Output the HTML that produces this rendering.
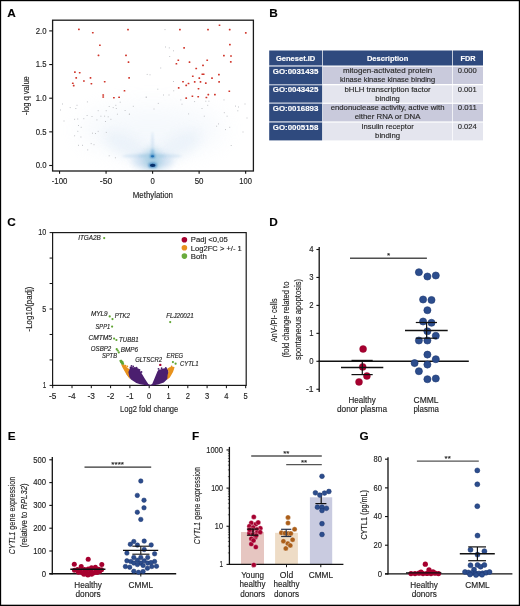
<!DOCTYPE html>
<html><head><meta charset="utf-8"><style>
html,body{margin:0;padding:0;background:#fff;}
svg{display:block;filter:blur(0.35px);}
text{font-family:"Liberation Sans", sans-serif;stroke:#222;stroke-width:0.14px;}
text.w{stroke:#fff;}
</style></head><body>
<svg width="520" height="606" viewBox="0 0 520 606">
<rect width="520" height="606" fill="#fff"/>
<g fill="#222">
<text x="7.20" y="16.90" font-size="11.8" font-weight="bold" fill="#000" >A</text>
<defs><filter id="b6" x="-50%" y="-50%" width="200%" height="200%"><feGaussianBlur stdDeviation="6"/></filter><filter id="b3" x="-50%" y="-50%" width="200%" height="200%"><feGaussianBlur stdDeviation="3"/></filter><filter id="b1" x="-50%" y="-50%" width="200%" height="200%"><feGaussianBlur stdDeviation="1"/></filter><filter id="b12" x="-80%" y="-80%" width="260%" height="260%"><feGaussianBlur stdDeviation="12"/></filter><clipPath id="clipA"><rect x="53" y="20.5" width="200" height="150"/></clipPath></defs>
<g clip-path="url(#clipA)">
<ellipse cx="152" cy="130" rx="72" ry="24" fill="#e3edf8" opacity="0.35" filter="url(#b12)"/>
<ellipse cx="130" cy="148" rx="28" ry="10" transform="rotate(28 130 148)" fill="#dbe8f5" opacity="0.45" filter="url(#b6)"/>
<ellipse cx="175" cy="148" rx="28" ry="10" transform="rotate(-28 175 148)" fill="#dbe8f5" opacity="0.45" filter="url(#b6)"/>
<ellipse cx="152.5" cy="161" rx="20" ry="9" fill="#c6dbef" opacity="0.75" filter="url(#b3)"/>
<ellipse cx="152.5" cy="162" rx="9" ry="6" fill="#9ecae1" opacity="0.7" filter="url(#b3)"/>
<ellipse cx="152" cy="156" rx="30" ry="2.2" fill="#b3d1ea" opacity="0.4" filter="url(#b1)"/>
<ellipse cx="152" cy="156" rx="14" ry="1.4" fill="#9ecae1" opacity="0.45" filter="url(#b1)"/>
<ellipse cx="152.5" cy="157" rx="7" ry="10" fill="#9ecae1" opacity="0.45" filter="url(#b3)"/>
<ellipse cx="152.5" cy="145" rx="1.4" ry="13" fill="#c6dbef" opacity="0.6" filter="url(#b1)"/>
<ellipse cx="152.5" cy="153" rx="1.6" ry="4" fill="#6baed6" opacity="0.6" filter="url(#b1)"/>
<ellipse cx="152.5" cy="156.2" rx="2.6" ry="1.8" fill="#2171b5" opacity="0.8" filter="url(#b1)"/>
<ellipse cx="152.5" cy="156.2" rx="1.5" ry="1.0" fill="#2171b5"/>
<ellipse cx="152.7" cy="165.2" rx="4.2" ry="2.6" fill="#2171b5" opacity="0.7" filter="url(#b1)"/>
<ellipse cx="152.7" cy="165.3" rx="2.8" ry="1.6" fill="#08306b"/>
</g>
<rect x="86.9" y="101.4" width="1" height="1" fill="#c2c4c8"/>
<rect x="76.5" y="104.8" width="1" height="1" fill="#c2c4c8"/>
<rect x="69.7" y="107.1" width="1" height="1" fill="#c2c4c8"/>
<rect x="75.3" y="108.0" width="1" height="1" fill="#c2c4c8"/>
<rect x="97.7" y="110.2" width="1" height="1" fill="#c2c4c8"/>
<rect x="105.7" y="110.2" width="1" height="1" fill="#c2c4c8"/>
<rect x="108.7" y="106.0" width="1" height="1" fill="#c2c4c8"/>
<rect x="112.7" y="107.1" width="1" height="1" fill="#c2c4c8"/>
<rect x="115.3" y="104.8" width="1" height="1" fill="#c2c4c8"/>
<rect x="115.8" y="108.0" width="1" height="1" fill="#c2c4c8"/>
<rect x="119.7" y="101.7" width="1" height="1" fill="#c2c4c8"/>
<rect x="124.6" y="110.0" width="1" height="1" fill="#c2c4c8"/>
<rect x="128.9" y="113.7" width="1" height="1" fill="#c2c4c8"/>
<rect x="116.9" y="113.7" width="1" height="1" fill="#c2c4c8"/>
<rect x="86.6" y="115.0" width="1" height="1" fill="#c2c4c8"/>
<rect x="91.5" y="116.0" width="1" height="1" fill="#c2c4c8"/>
<rect x="100.4" y="115.7" width="1" height="1" fill="#c2c4c8"/>
<rect x="104.1" y="115.7" width="1" height="1" fill="#c2c4c8"/>
<rect x="107.7" y="116.3" width="1" height="1" fill="#c2c4c8"/>
<rect x="110.4" y="118.8" width="1" height="1" fill="#c2c4c8"/>
<rect x="74.1" y="118.8" width="1" height="1" fill="#c2c4c8"/>
<rect x="77.2" y="118.5" width="1" height="1" fill="#c2c4c8"/>
<rect x="83.3" y="118.2" width="1" height="1" fill="#c2c4c8"/>
<rect x="96.4" y="119.4" width="1" height="1" fill="#c2c4c8"/>
<rect x="105.0" y="121.0" width="1" height="1" fill="#c2c4c8"/>
<rect x="78.0" y="125.0" width="1" height="1" fill="#c2c4c8"/>
<rect x="80.7" y="126.8" width="1" height="1" fill="#c2c4c8"/>
<rect x="77.3" y="130.8" width="1" height="1" fill="#c2c4c8"/>
<rect x="92.0" y="132.7" width="1" height="1" fill="#c2c4c8"/>
<rect x="95.0" y="133.0" width="1" height="1" fill="#c2c4c8"/>
<rect x="97.7" y="130.8" width="1" height="1" fill="#c2c4c8"/>
<rect x="105.8" y="131.9" width="1" height="1" fill="#c2c4c8"/>
<rect x="74.1" y="135.3" width="1" height="1" fill="#c2c4c8"/>
<rect x="80.4" y="136.5" width="1" height="1" fill="#c2c4c8"/>
<rect x="78.0" y="144.8" width="1" height="1" fill="#c2c4c8"/>
<rect x="82.0" y="144.8" width="1" height="1" fill="#c2c4c8"/>
<rect x="90.7" y="143.1" width="1" height="1" fill="#c2c4c8"/>
<rect x="93.5" y="144.2" width="1" height="1" fill="#c2c4c8"/>
<rect x="87.2" y="149.4" width="1" height="1" fill="#c2c4c8"/>
<rect x="108.7" y="155.3" width="1" height="1" fill="#c2c4c8"/>
<rect x="114.9" y="157.3" width="1" height="1" fill="#c2c4c8"/>
<rect x="180.3" y="99.4" width="1" height="1" fill="#c2c4c8"/>
<rect x="181.5" y="103.7" width="1" height="1" fill="#c2c4c8"/>
<rect x="194.1" y="101.1" width="1" height="1" fill="#c2c4c8"/>
<rect x="205.3" y="100.7" width="1" height="1" fill="#c2c4c8"/>
<rect x="208.4" y="100.7" width="1" height="1" fill="#c2c4c8"/>
<rect x="207.2" y="104.8" width="1" height="1" fill="#c2c4c8"/>
<rect x="223.5" y="99.4" width="1" height="1" fill="#c2c4c8"/>
<rect x="201.5" y="108.0" width="1" height="1" fill="#c2c4c8"/>
<rect x="188.1" y="113.4" width="1" height="1" fill="#c2c4c8"/>
<rect x="203.8" y="115.7" width="1" height="1" fill="#c2c4c8"/>
<rect x="223.8" y="112.2" width="1" height="1" fill="#c2c4c8"/>
<rect x="226.6" y="115.7" width="1" height="1" fill="#c2c4c8"/>
<rect x="235.0" y="105.6" width="1" height="1" fill="#c2c4c8"/>
<rect x="238.0" y="106.5" width="1" height="1" fill="#c2c4c8"/>
<rect x="237.3" y="110.3" width="1" height="1" fill="#c2c4c8"/>
<rect x="218.0" y="123.4" width="1" height="1" fill="#c2c4c8"/>
<rect x="216.1" y="125.7" width="1" height="1" fill="#c2c4c8"/>
<rect x="229.2" y="126.8" width="1" height="1" fill="#c2c4c8"/>
<rect x="225.0" y="129.1" width="1" height="1" fill="#c2c4c8"/>
<rect x="230.7" y="145.0" width="1" height="1" fill="#c2c4c8"/>
<rect x="145.8" y="96.9" width="1" height="1" fill="#c2c4c8"/>
<rect x="157.8" y="102.9" width="1" height="1" fill="#c2c4c8"/>
<rect x="132.8" y="105.8" width="1" height="1" fill="#c2c4c8"/>
<rect x="153.5" y="108.5" width="1" height="1" fill="#c2c4c8"/>
<rect x="128.9" y="113.7" width="1" height="1" fill="#c2c4c8"/>
<rect x="62.0" y="103.5" width="1" height="1" fill="#c2c4c8"/>
<rect x="63.5" y="120.5" width="1" height="1" fill="#c2c4c8"/>
<rect x="244.5" y="103.5" width="1" height="1" fill="#c2c4c8"/>
<rect x="242.5" y="131.5" width="1" height="1" fill="#c2c4c8"/>
<rect x="60.0" y="109.5" width="1" height="1" fill="#c2c4c8"/>
<rect x="246.5" y="117.5" width="1" height="1" fill="#c2c4c8"/>
<rect x="164.5" y="29.1" width="1" height="1" fill="#c2c4c8"/>
<rect x="165.0" y="46.5" width="1" height="1" fill="#c2c4c8"/>
<rect x="168.8" y="47.4" width="1" height="1" fill="#c2c4c8"/>
<rect x="173.0" y="50.3" width="1" height="1" fill="#c2c4c8"/>
<rect x="169.2" y="56.0" width="1" height="1" fill="#c2c4c8"/>
<rect x="160.2" y="67.5" width="1" height="1" fill="#c2c4c8"/>
<rect x="173.0" y="81.0" width="1" height="1" fill="#c2c4c8"/>
<rect x="157.3" y="88.7" width="1" height="1" fill="#c2c4c8"/>
<rect x="163.0" y="94.5" width="1" height="1" fill="#c2c4c8"/>
<rect x="168.5" y="94.5" width="1" height="1" fill="#c2c4c8"/>
<rect x="173.2" y="90.3" width="1" height="1" fill="#c2c4c8"/>
<rect x="146.7" y="73.9" width="1" height="1" fill="#c2c4c8"/>
<rect x="149.5" y="74.3" width="1" height="1" fill="#c2c4c8"/>
<rect x="145.7" y="96.5" width="1" height="1" fill="#c2c4c8"/>
<rect x="78.0" y="28.6" width="1.8" height="1.6" rx="0.4" fill="#d0352a"/>
<rect x="91.9" y="31.9" width="1.8" height="1.6" rx="0.4" fill="#d0352a"/>
<rect x="127.1" y="28.8" width="1.8" height="1.6" rx="0.4" fill="#d0352a"/>
<rect x="99.0" y="44.4" width="1.8" height="1.6" rx="0.4" fill="#d0352a"/>
<rect x="97.6" y="54.6" width="1.8" height="1.6" rx="0.4" fill="#d0352a"/>
<rect x="125.1" y="54.6" width="1.8" height="1.6" rx="0.4" fill="#d0352a"/>
<rect x="127.6" y="61.3" width="1.8" height="1.6" rx="0.4" fill="#d0352a"/>
<rect x="74.0" y="71.3" width="1.8" height="1.6" rx="0.4" fill="#d0352a"/>
<rect x="78.8" y="71.9" width="1.8" height="1.6" rx="0.4" fill="#d0352a"/>
<rect x="75.3" y="77.1" width="1.8" height="1.6" rx="0.4" fill="#d0352a"/>
<rect x="89.6" y="77.1" width="1.8" height="1.6" rx="0.4" fill="#d0352a"/>
<rect x="128.2" y="77.1" width="1.8" height="1.6" rx="0.4" fill="#d0352a"/>
<rect x="83.0" y="80.2" width="1.8" height="1.6" rx="0.4" fill="#d0352a"/>
<rect x="71.9" y="82.5" width="1.8" height="1.6" rx="0.4" fill="#d0352a"/>
<rect x="72.8" y="84.8" width="1.8" height="1.6" rx="0.4" fill="#d0352a"/>
<rect x="90.5" y="82.9" width="1.8" height="1.6" rx="0.4" fill="#d0352a"/>
<rect x="103.8" y="80.9" width="1.8" height="1.6" rx="0.4" fill="#d0352a"/>
<rect x="123.6" y="90.0" width="1.8" height="1.6" rx="0.4" fill="#d0352a"/>
<rect x="102.3" y="94.2" width="1.8" height="1.6" rx="0.4" fill="#d0352a"/>
<rect x="102.3" y="96.2" width="1.8" height="1.6" rx="0.4" fill="#d0352a"/>
<rect x="113.0" y="96.9" width="1.8" height="1.6" rx="0.4" fill="#d0352a"/>
<rect x="118.2" y="96.5" width="1.8" height="1.6" rx="0.4" fill="#d0352a"/>
<rect x="179.0" y="28.8" width="1.8" height="1.6" rx="0.4" fill="#d0352a"/>
<rect x="207.1" y="28.8" width="1.8" height="1.6" rx="0.4" fill="#d0352a"/>
<rect x="218.6" y="24.4" width="1.8" height="1.6" rx="0.4" fill="#d0352a"/>
<rect x="228.8" y="28.8" width="1.8" height="1.6" rx="0.4" fill="#d0352a"/>
<rect x="244.9" y="32.1" width="1.8" height="1.6" rx="0.4" fill="#d0352a"/>
<rect x="229.0" y="43.8" width="1.8" height="1.6" rx="0.4" fill="#d0352a"/>
<rect x="183.2" y="47.1" width="1.8" height="1.6" rx="0.4" fill="#d0352a"/>
<rect x="223.0" y="54.8" width="1.8" height="1.6" rx="0.4" fill="#d0352a"/>
<rect x="230.1" y="55.2" width="1.8" height="1.6" rx="0.4" fill="#d0352a"/>
<rect x="177.4" y="59.4" width="1.8" height="1.6" rx="0.4" fill="#d0352a"/>
<rect x="188.6" y="61.3" width="1.8" height="1.6" rx="0.4" fill="#d0352a"/>
<rect x="206.3" y="59.4" width="1.8" height="1.6" rx="0.4" fill="#d0352a"/>
<rect x="229.9" y="61.1" width="1.8" height="1.6" rx="0.4" fill="#d0352a"/>
<rect x="175.5" y="63.0" width="1.8" height="1.6" rx="0.4" fill="#d0352a"/>
<rect x="202.1" y="64.6" width="1.8" height="1.6" rx="0.4" fill="#d0352a"/>
<rect x="195.3" y="67.7" width="1.8" height="1.6" rx="0.4" fill="#d0352a"/>
<rect x="201.4" y="73.4" width="1.8" height="1.6" rx="0.4" fill="#d0352a"/>
<rect x="202.8" y="73.4" width="1.8" height="1.6" rx="0.4" fill="#d0352a"/>
<rect x="218.0" y="73.8" width="1.8" height="1.6" rx="0.4" fill="#d0352a"/>
<rect x="191.9" y="75.4" width="1.8" height="1.6" rx="0.4" fill="#d0352a"/>
<rect x="198.4" y="77.3" width="1.8" height="1.6" rx="0.4" fill="#d0352a"/>
<rect x="211.1" y="77.3" width="1.8" height="1.6" rx="0.4" fill="#d0352a"/>
<rect x="182.1" y="80.9" width="1.8" height="1.6" rx="0.4" fill="#d0352a"/>
<rect x="193.8" y="81.1" width="1.8" height="1.6" rx="0.4" fill="#d0352a"/>
<rect x="199.6" y="81.1" width="1.8" height="1.6" rx="0.4" fill="#d0352a"/>
<rect x="204.9" y="82.3" width="1.8" height="1.6" rx="0.4" fill="#d0352a"/>
<rect x="218.2" y="81.1" width="1.8" height="1.6" rx="0.4" fill="#d0352a"/>
<rect x="187.6" y="82.7" width="1.8" height="1.6" rx="0.4" fill="#d0352a"/>
<rect x="185.3" y="84.6" width="1.8" height="1.6" rx="0.4" fill="#d0352a"/>
<rect x="177.8" y="87.1" width="1.8" height="1.6" rx="0.4" fill="#d0352a"/>
<rect x="197.6" y="87.9" width="1.8" height="1.6" rx="0.4" fill="#d0352a"/>
<rect x="228.4" y="90.4" width="1.8" height="1.6" rx="0.4" fill="#d0352a"/>
<rect x="191.5" y="95.4" width="1.8" height="1.6" rx="0.4" fill="#d0352a"/>
<rect x="197.3" y="95.9" width="1.8" height="1.6" rx="0.4" fill="#d0352a"/>
<rect x="207.4" y="93.8" width="1.8" height="1.6" rx="0.4" fill="#d0352a"/>
<rect x="214.0" y="93.8" width="1.8" height="1.6" rx="0.4" fill="#d0352a"/>
<rect x="185.3" y="97.3" width="1.8" height="1.6" rx="0.4" fill="#d0352a"/>
<rect x="205.5" y="96.7" width="1.8" height="1.6" rx="0.4" fill="#d0352a"/>
<rect x="52.6" y="20.2" width="200.8" height="150.8" fill="none" stroke="#1a1a1a" stroke-width="1.3"/>
<line x1="49.20" y1="165.50" x2="52.60" y2="165.50" stroke="#111" stroke-width="1.1"/>
<text x="46.60" y="168.25" font-size="8.3" text-anchor="end" textLength="10.8" lengthAdjust="spacingAndGlyphs" >0.0</text>
<line x1="49.20" y1="131.85" x2="52.60" y2="131.85" stroke="#111" stroke-width="1.1"/>
<text x="46.60" y="134.60" font-size="8.3" text-anchor="end" textLength="10.8" lengthAdjust="spacingAndGlyphs" >0.5</text>
<line x1="49.20" y1="98.20" x2="52.60" y2="98.20" stroke="#111" stroke-width="1.1"/>
<text x="46.60" y="100.95" font-size="8.3" text-anchor="end" textLength="10.8" lengthAdjust="spacingAndGlyphs" >1.0</text>
<line x1="49.20" y1="64.55" x2="52.60" y2="64.55" stroke="#111" stroke-width="1.1"/>
<text x="46.60" y="67.30" font-size="8.3" text-anchor="end" textLength="10.8" lengthAdjust="spacingAndGlyphs" >1.5</text>
<line x1="49.20" y1="30.90" x2="52.60" y2="30.90" stroke="#111" stroke-width="1.1"/>
<text x="46.60" y="33.65" font-size="8.3" text-anchor="end" textLength="10.8" lengthAdjust="spacingAndGlyphs" >2.0</text>
<line x1="59.55" y1="171.00" x2="59.55" y2="173.80" stroke="#111" stroke-width="1.1"/>
<text x="59.55" y="184.30" font-size="8.3" text-anchor="middle" textLength="15.6" lengthAdjust="spacingAndGlyphs" >-100</text>
<line x1="106.07" y1="171.00" x2="106.07" y2="173.80" stroke="#111" stroke-width="1.1"/>
<text x="106.07" y="184.30" font-size="8.3" text-anchor="middle" textLength="12.6" lengthAdjust="spacingAndGlyphs" >-50</text>
<line x1="152.60" y1="171.00" x2="152.60" y2="173.80" stroke="#111" stroke-width="1.1"/>
<text x="152.60" y="184.30" font-size="8.3" text-anchor="middle" textLength="4.3" lengthAdjust="spacingAndGlyphs" >0</text>
<line x1="199.12" y1="171.00" x2="199.12" y2="173.80" stroke="#111" stroke-width="1.1"/>
<text x="199.12" y="184.30" font-size="8.3" text-anchor="middle" textLength="8.8" lengthAdjust="spacingAndGlyphs" >50</text>
<line x1="245.65" y1="171.00" x2="245.65" y2="173.80" stroke="#111" stroke-width="1.1"/>
<text x="245.65" y="184.30" font-size="8.3" text-anchor="middle" textLength="12.6" lengthAdjust="spacingAndGlyphs" >100</text>
<text x="152.90" y="197.50" font-size="9" text-anchor="middle" textLength="40.2" lengthAdjust="spacingAndGlyphs" >Methylation</text>
<text x="29.40" y="95.60" font-size="8.8" text-anchor="middle" textLength="38.8" lengthAdjust="spacingAndGlyphs" transform="rotate(-90 29.40 95.60)" >-log q value</text>
<text x="269.20" y="16.90" font-size="11.8" font-weight="bold" fill="#000" >B</text>
<rect x="269.20" y="50.50" width="213.80" height="90.00" fill="#ffffff" />
<rect x="269.20" y="50.50" width="53.00" height="15.00" fill="#2f4a7e" />
<rect x="322.90" y="50.50" width="129.30" height="15.00" fill="#2f4a7e" />
<rect x="452.90" y="50.50" width="30.10" height="15.00" fill="#2f4a7e" />
<rect x="269.20" y="65.50" width="53.00" height="1.20" fill="#aeb8cf" />
<rect x="269.20" y="66.70" width="53.00" height="17.30" fill="#2f4a7e" />
<rect x="269.20" y="84.00" width="53.00" height="1.30" fill="#aab5cc" />
<rect x="322.90" y="66.70" width="129.30" height="17.30" fill="#c9cadc" />
<rect x="452.90" y="66.70" width="30.10" height="17.30" fill="#c9cadc" />
<rect x="269.20" y="85.30" width="53.00" height="17.40" fill="#2f4a7e" />
<rect x="269.20" y="102.70" width="53.00" height="1.20" fill="#aab5cc" />
<rect x="322.90" y="85.30" width="129.30" height="17.40" fill="#e4e5ee" />
<rect x="452.90" y="85.30" width="30.10" height="17.40" fill="#e4e5ee" />
<rect x="269.20" y="103.90" width="53.00" height="17.50" fill="#2f4a7e" />
<rect x="269.20" y="121.40" width="53.00" height="1.20" fill="#aab5cc" />
<rect x="322.90" y="103.90" width="129.30" height="17.50" fill="#c9cadc" />
<rect x="452.90" y="103.90" width="30.10" height="17.50" fill="#c9cadc" />
<rect x="269.20" y="122.60" width="53.00" height="17.80" fill="#2f4a7e" />
<rect x="322.90" y="122.60" width="129.30" height="17.80" fill="#e4e5ee" />
<rect x="452.90" y="122.60" width="30.10" height="17.80" fill="#e4e5ee" />
<text x="295.60" y="60.60" font-size="8" text-anchor="middle" textLength="39.4" lengthAdjust="spacingAndGlyphs" font-weight="bold" fill="#fff" class="w">Geneset.ID</text>
<text x="387.60" y="60.60" font-size="8" text-anchor="middle" textLength="41.3" lengthAdjust="spacingAndGlyphs" font-weight="bold" fill="#fff" class="w">Description</text>
<text x="468.10" y="60.60" font-size="8" text-anchor="middle" textLength="15" lengthAdjust="spacingAndGlyphs" font-weight="bold" fill="#fff" class="w">FDR</text>
<text x="295.60" y="73.60" font-size="7.9" text-anchor="middle" textLength="45.6" lengthAdjust="spacingAndGlyphs" font-weight="bold" fill="#fff" class="w">GO:0031435</text>
<text x="387.60" y="73.10" font-size="7.6" text-anchor="middle" textLength="89.3" lengthAdjust="spacingAndGlyphs" fill="#2a2a2a" >mitogen-activated protein</text>
<text x="387.60" y="81.90" font-size="7.6" text-anchor="middle" textLength="95.2" lengthAdjust="spacingAndGlyphs" fill="#2a2a2a" >kinase kinase kinase binding</text>
<text x="467.30" y="73.10" font-size="7.6" text-anchor="middle" textLength="19" lengthAdjust="spacingAndGlyphs" fill="#2a2a2a" >0.000</text>
<text x="295.60" y="92.20" font-size="7.9" text-anchor="middle" textLength="45.6" lengthAdjust="spacingAndGlyphs" font-weight="bold" fill="#fff" class="w">GO:0043425</text>
<text x="387.60" y="91.70" font-size="7.6" text-anchor="middle" textLength="86.2" lengthAdjust="spacingAndGlyphs" fill="#2a2a2a" >bHLH transcription factor</text>
<text x="387.60" y="100.50" font-size="7.6" text-anchor="middle" textLength="24.5" lengthAdjust="spacingAndGlyphs" fill="#2a2a2a" >binding</text>
<text x="467.30" y="91.70" font-size="7.6" text-anchor="middle" textLength="19" lengthAdjust="spacingAndGlyphs" fill="#2a2a2a" >0.001</text>
<text x="295.60" y="110.80" font-size="7.9" text-anchor="middle" textLength="45.6" lengthAdjust="spacingAndGlyphs" font-weight="bold" fill="#fff" class="w">GO:0016893</text>
<text x="387.60" y="110.30" font-size="7.6" text-anchor="middle" textLength="113.8" lengthAdjust="spacingAndGlyphs" fill="#2a2a2a" >endonuclease activity, active with</text>
<text x="387.60" y="119.10" font-size="7.6" text-anchor="middle" textLength="65.8" lengthAdjust="spacingAndGlyphs" fill="#2a2a2a" >either RNA or DNA</text>
<text x="467.30" y="110.30" font-size="7.6" text-anchor="middle" textLength="19" lengthAdjust="spacingAndGlyphs" fill="#2a2a2a" >0.011</text>
<text x="295.60" y="129.50" font-size="7.9" text-anchor="middle" textLength="45.6" lengthAdjust="spacingAndGlyphs" font-weight="bold" fill="#fff" class="w">GO:0005158</text>
<text x="387.60" y="129.00" font-size="7.6" text-anchor="middle" textLength="52.2" lengthAdjust="spacingAndGlyphs" fill="#2a2a2a" >Insulin receptor</text>
<text x="387.60" y="137.80" font-size="7.6" text-anchor="middle" textLength="25" lengthAdjust="spacingAndGlyphs" fill="#2a2a2a" >binding</text>
<text x="467.30" y="129.00" font-size="7.6" text-anchor="middle" textLength="19" lengthAdjust="spacingAndGlyphs" fill="#2a2a2a" >0.024</text>
<text x="7.20" y="225.50" font-size="11.8" font-weight="bold" fill="#000" >C</text>
<rect x="52.6" y="232.6" width="193.6" height="152.8" fill="none" stroke="#1a1a1a" stroke-width="1.2"/>
<line x1="49.60" y1="232.60" x2="52.60" y2="232.60" stroke="#111" stroke-width="1.0"/>
<line x1="49.60" y1="258.07" x2="52.60" y2="258.07" stroke="#111" stroke-width="1.0"/>
<line x1="49.60" y1="283.53" x2="52.60" y2="283.53" stroke="#111" stroke-width="1.0"/>
<line x1="49.60" y1="309.00" x2="52.60" y2="309.00" stroke="#111" stroke-width="1.0"/>
<line x1="49.60" y1="334.47" x2="52.60" y2="334.47" stroke="#111" stroke-width="1.0"/>
<line x1="49.60" y1="359.93" x2="52.60" y2="359.93" stroke="#111" stroke-width="1.0"/>
<line x1="49.60" y1="385.40" x2="52.60" y2="385.40" stroke="#111" stroke-width="1.0"/>
<text x="46.20" y="235.30" font-size="8.3" text-anchor="end" textLength="8" lengthAdjust="spacingAndGlyphs" >10</text>
<text x="46.20" y="311.50" font-size="8.3" text-anchor="end" textLength="4" lengthAdjust="spacingAndGlyphs" >5</text>
<text x="46.20" y="388.00" font-size="8.3" text-anchor="end" textLength="3.5" lengthAdjust="spacingAndGlyphs" >1</text>
<line x1="52.70" y1="385.40" x2="52.70" y2="388.20" stroke="#111" stroke-width="1.0"/>
<text x="52.70" y="398.90" font-size="8.3" text-anchor="middle" textLength="7.4" lengthAdjust="spacingAndGlyphs" >-5</text>
<line x1="72.00" y1="385.40" x2="72.00" y2="388.20" stroke="#111" stroke-width="1.0"/>
<text x="72.00" y="398.90" font-size="8.3" text-anchor="middle" textLength="7.4" lengthAdjust="spacingAndGlyphs" >-4</text>
<line x1="91.30" y1="385.40" x2="91.30" y2="388.20" stroke="#111" stroke-width="1.0"/>
<text x="91.30" y="398.90" font-size="8.3" text-anchor="middle" textLength="7.4" lengthAdjust="spacingAndGlyphs" >-3</text>
<line x1="110.60" y1="385.40" x2="110.60" y2="388.20" stroke="#111" stroke-width="1.0"/>
<text x="110.60" y="398.90" font-size="8.3" text-anchor="middle" textLength="7.4" lengthAdjust="spacingAndGlyphs" >-2</text>
<line x1="129.90" y1="385.40" x2="129.90" y2="388.20" stroke="#111" stroke-width="1.0"/>
<text x="129.90" y="398.90" font-size="8.3" text-anchor="middle" textLength="7.4" lengthAdjust="spacingAndGlyphs" >-1</text>
<line x1="149.20" y1="385.40" x2="149.20" y2="388.20" stroke="#111" stroke-width="1.0"/>
<text x="149.20" y="398.90" font-size="8.3" text-anchor="middle" textLength="4.2" lengthAdjust="spacingAndGlyphs" >0</text>
<line x1="168.50" y1="385.40" x2="168.50" y2="388.20" stroke="#111" stroke-width="1.0"/>
<text x="168.50" y="398.90" font-size="8.3" text-anchor="middle" textLength="4.2" lengthAdjust="spacingAndGlyphs" >1</text>
<line x1="187.80" y1="385.40" x2="187.80" y2="388.20" stroke="#111" stroke-width="1.0"/>
<text x="187.80" y="398.90" font-size="8.3" text-anchor="middle" textLength="4.2" lengthAdjust="spacingAndGlyphs" >2</text>
<line x1="207.10" y1="385.40" x2="207.10" y2="388.20" stroke="#111" stroke-width="1.0"/>
<text x="207.10" y="398.90" font-size="8.3" text-anchor="middle" textLength="4.2" lengthAdjust="spacingAndGlyphs" >3</text>
<line x1="226.40" y1="385.40" x2="226.40" y2="388.20" stroke="#111" stroke-width="1.0"/>
<text x="226.40" y="398.90" font-size="8.3" text-anchor="middle" textLength="4.2" lengthAdjust="spacingAndGlyphs" >4</text>
<line x1="245.70" y1="385.40" x2="245.70" y2="388.20" stroke="#111" stroke-width="1.0"/>
<text x="245.70" y="398.90" font-size="8.3" text-anchor="middle" textLength="4.2" lengthAdjust="spacingAndGlyphs" >5</text>
<text x="149.20" y="411.90" font-size="9.8" text-anchor="middle" textLength="58.2" lengthAdjust="spacingAndGlyphs" >Log2 fold change</text>
<text x="31.90" y="309.00" font-size="9.2" text-anchor="middle" textLength="44.9" lengthAdjust="spacingAndGlyphs" transform="rotate(-90 31.90 309.00)" >-Log10(padj)</text>
<circle cx="184.40" cy="239.70" r="2.8" fill="#a6002f" />
<circle cx="184.40" cy="247.80" r="2.8" fill="#e8901c" />
<circle cx="184.40" cy="256.10" r="2.8" fill="#6aab3c" />
<text x="190.80" y="242.30" font-size="7.6" textLength="37" lengthAdjust="spacingAndGlyphs" >Padj &lt;0,05</text>
<text x="190.80" y="250.50" font-size="7.6" textLength="51" lengthAdjust="spacingAndGlyphs" >Log2FC &gt; +/- 1</text>
<text x="190.80" y="258.70" font-size="7.6" textLength="16" lengthAdjust="spacingAndGlyphs" >Both</text>
<polygon fill="#4b1f6f" points="126.3,373.8 128.6,370 129.4,369 131.3,366.3 133,367.6 135,366.9 137,368 138.8,368.8 140,370.6 142,374 145,379 148.3,384 150.2,385 152.2,384 154.5,378.5 157.5,371.3 158.8,369.4 160.5,369.6 162.5,368.8 164.5,368.3 166.6,368.1 168.2,370 169,374 168,378.5 163.8,382.5 158,384.6 152.5,385.4 147.5,385.4 140,384.3 136.3,383.1 131,379.5"/>
<polygon fill="#e8921c" points="121,364.2 123.8,364.2 125.5,366 127.6,368 129.6,369.2 128.4,372 129.4,377 130.6,379.2 129,378 126.3,374.2 122.5,367.5"/>
<polygon fill="#e8921c" points="167.2,368.8 169.5,367.3 172.5,366.8 174.2,368.6 173,372 171,375.5 169.8,377.6 167.3,379.6 167.6,375 168.6,371.5"/>
<polygon fill="#5fa532" points="119.2,360.6 121.2,359.6 123.4,361.6 124.4,364.6 122,364.8 120.2,362.8"/>
<circle cx="130.50" cy="367.50" r="0.9" fill="#4b1f6f" />
<circle cx="133.20" cy="366.40" r="0.9" fill="#4b1f6f" />
<circle cx="136.60" cy="367.60" r="0.9" fill="#4b1f6f" />
<circle cx="139.50" cy="369.80" r="0.9" fill="#4b1f6f" />
<circle cx="141.50" cy="372.00" r="0.9" fill="#4b1f6f" />
<circle cx="158.50" cy="368.80" r="0.9" fill="#4b1f6f" />
<circle cx="161.60" cy="368.20" r="0.9" fill="#4b1f6f" />
<circle cx="165.80" cy="367.80" r="0.9" fill="#4b1f6f" />
<circle cx="131.50" cy="365.80" r="0.9" fill="#4b1f6f" />
<circle cx="125.50" cy="365.60" r="0.9" fill="#e8921c" />
<circle cx="127.30" cy="366.40" r="0.9" fill="#e8921c" />
<circle cx="171.60" cy="366.40" r="0.9" fill="#e8921c" />
<circle cx="173.60" cy="367.60" r="0.9" fill="#e8921c" />
<circle cx="104.20" cy="238.10" r="1.1" fill="#5fa532" />
<circle cx="109.70" cy="316.40" r="1.1" fill="#5fa532" />
<circle cx="112.50" cy="319.10" r="1.1" fill="#5fa532" />
<circle cx="112.10" cy="326.60" r="1.1" fill="#5fa532" />
<circle cx="114.10" cy="338.60" r="1.1" fill="#5fa532" />
<circle cx="116.40" cy="340.00" r="1.1" fill="#5fa532" />
<circle cx="116.70" cy="349.20" r="1.1" fill="#5fa532" />
<circle cx="117.70" cy="350.50" r="1.1" fill="#5fa532" />
<circle cx="118.80" cy="352.40" r="1.1" fill="#5fa532" />
<circle cx="170.20" cy="322.10" r="1.1" fill="#5fa532" />
<circle cx="172.90" cy="362.10" r="1.1" fill="#5fa532" />
<circle cx="175.60" cy="363.70" r="1.1" fill="#5fa532" />
<circle cx="160.30" cy="364.90" r="1.2" fill="#a6002f" />
<text x="78.20" y="239.90" font-size="6.6" textLength="22.6" lengthAdjust="spacingAndGlyphs" font-style="italic" >ITGA2B</text>
<text x="90.90" y="315.70" font-size="6.6" textLength="16.8" lengthAdjust="spacingAndGlyphs" font-style="italic" >MYL9</text>
<text x="114.80" y="318.40" font-size="6.6" textLength="15.1" lengthAdjust="spacingAndGlyphs" font-style="italic" >PTK2</text>
<text x="95.60" y="328.90" font-size="6.6" textLength="14.5" lengthAdjust="spacingAndGlyphs" font-style="italic" >SPP1</text>
<text x="88.40" y="340.00" font-size="6.6" textLength="23.7" lengthAdjust="spacingAndGlyphs" font-style="italic" >CMTM5</text>
<text x="119.10" y="342.00" font-size="6.6" textLength="19.5" lengthAdjust="spacingAndGlyphs" font-style="italic" >TUBB1</text>
<text x="90.80" y="351.00" font-size="6.6" textLength="20.4" lengthAdjust="spacingAndGlyphs" font-style="italic" >OSBP2</text>
<text x="120.80" y="351.80" font-size="6.6" textLength="17.1" lengthAdjust="spacingAndGlyphs" font-style="italic" >BMP6</text>
<text x="101.90" y="358.20" font-size="6.6" textLength="15.1" lengthAdjust="spacingAndGlyphs" font-style="italic" >SPTB</text>
<text x="135.20" y="361.90" font-size="6.6" textLength="26.8" lengthAdjust="spacingAndGlyphs" font-style="italic" >GLTSCR2</text>
<text x="166.20" y="317.80" font-size="6.6" textLength="27.5" lengthAdjust="spacingAndGlyphs" font-style="italic" >FLJ20021</text>
<text x="166.60" y="358.20" font-size="6.6" textLength="16.4" lengthAdjust="spacingAndGlyphs" font-style="italic" >EREG</text>
<text x="179.90" y="366.30" font-size="6.6" textLength="18.6" lengthAdjust="spacingAndGlyphs" font-style="italic" >CYTL1</text>
<text x="269.20" y="225.50" font-size="11.8" font-weight="bold" fill="#000" >D</text>
<line x1="319.20" y1="246.90" x2="319.20" y2="392.00" stroke="#111" stroke-width="1.3"/>
<line x1="316.40" y1="249.50" x2="319.20" y2="249.50" stroke="#111" stroke-width="1.1"/>
<text x="313.60" y="252.25" font-size="8.3" text-anchor="end" textLength="4.3" lengthAdjust="spacingAndGlyphs" >4</text>
<line x1="316.40" y1="277.45" x2="319.20" y2="277.45" stroke="#111" stroke-width="1.1"/>
<text x="313.60" y="280.20" font-size="8.3" text-anchor="end" textLength="4.3" lengthAdjust="spacingAndGlyphs" >3</text>
<line x1="316.40" y1="305.40" x2="319.20" y2="305.40" stroke="#111" stroke-width="1.1"/>
<text x="313.60" y="308.15" font-size="8.3" text-anchor="end" textLength="4.3" lengthAdjust="spacingAndGlyphs" >2</text>
<line x1="316.40" y1="333.35" x2="319.20" y2="333.35" stroke="#111" stroke-width="1.1"/>
<text x="313.60" y="336.10" font-size="8.3" text-anchor="end" textLength="4.3" lengthAdjust="spacingAndGlyphs" >1</text>
<line x1="316.40" y1="361.30" x2="319.20" y2="361.30" stroke="#111" stroke-width="1.1"/>
<text x="313.60" y="364.05" font-size="8.3" text-anchor="end" textLength="4.3" lengthAdjust="spacingAndGlyphs" >0</text>
<line x1="316.40" y1="389.25" x2="319.20" y2="389.25" stroke="#111" stroke-width="1.1"/>
<text x="313.60" y="392.00" font-size="8.3" text-anchor="end" textLength="7.6" lengthAdjust="spacingAndGlyphs" >-1</text>
<line x1="318.60" y1="361.30" x2="468.80" y2="361.30" stroke="#111" stroke-width="1.4"/>
<line x1="350.00" y1="258.20" x2="426.90" y2="258.20" stroke="#4f4f4f" stroke-width="1.4"/>
<text x="388.50" y="258.30" font-size="8" text-anchor="middle" textLength="3.2" lengthAdjust="spacingAndGlyphs" >*</text>
<text x="276.60" y="320.20" font-size="8.6" text-anchor="middle" textLength="43.6" lengthAdjust="spacingAndGlyphs" transform="rotate(-90 276.60 320.20)" >AnV-/PI- cells</text>
<text x="288.50" y="319.50" font-size="9.2" text-anchor="middle" textLength="76" lengthAdjust="spacingAndGlyphs" transform="rotate(-90 288.50 319.50)" >(fold change related to</text>
<text x="300.50" y="319.50" font-size="9.2" text-anchor="middle" textLength="81" lengthAdjust="spacingAndGlyphs" transform="rotate(-90 300.50 319.50)" >spontaneous apoptosis)</text>
<circle cx="363.10" cy="349.00" r="3.5" fill="#a6002f" stroke="#8e0028" stroke-width="0.4"/>
<circle cx="362.70" cy="366.90" r="3.5" fill="#a6002f" stroke="#8e0028" stroke-width="0.4"/>
<circle cx="366.90" cy="376.00" r="3.5" fill="#a6002f" stroke="#8e0028" stroke-width="0.4"/>
<circle cx="359.00" cy="381.90" r="3.5" fill="#a6002f" stroke="#8e0028" stroke-width="0.4"/>
<line x1="341.00" y1="367.50" x2="383.30" y2="367.50" stroke="#111" stroke-width="1.3"/>
<line x1="351.50" y1="360.40" x2="372.70" y2="360.40" stroke="#111" stroke-width="1.2"/>
<line x1="351.50" y1="374.60" x2="372.70" y2="374.60" stroke="#111" stroke-width="1.2"/>
<line x1="362.30" y1="360.40" x2="362.30" y2="374.60" stroke="#111" stroke-width="1.2"/>
<circle cx="418.90" cy="272.20" r="3.55" fill="#2c4d8d" stroke="#1b356f" stroke-width="0.6"/>
<circle cx="427.40" cy="276.50" r="3.55" fill="#2c4d8d" stroke="#1b356f" stroke-width="0.6"/>
<circle cx="435.80" cy="275.50" r="3.55" fill="#2c4d8d" stroke="#1b356f" stroke-width="0.6"/>
<circle cx="423.10" cy="299.50" r="3.55" fill="#2c4d8d" stroke="#1b356f" stroke-width="0.6"/>
<circle cx="431.50" cy="300.00" r="3.55" fill="#2c4d8d" stroke="#1b356f" stroke-width="0.6"/>
<circle cx="427.40" cy="310.20" r="3.55" fill="#2c4d8d" stroke="#1b356f" stroke-width="0.6"/>
<circle cx="423.10" cy="321.50" r="3.55" fill="#2c4d8d" stroke="#1b356f" stroke-width="0.6"/>
<circle cx="431.50" cy="322.80" r="3.55" fill="#2c4d8d" stroke="#1b356f" stroke-width="0.6"/>
<circle cx="427.40" cy="331.30" r="3.55" fill="#2c4d8d" stroke="#1b356f" stroke-width="0.6"/>
<circle cx="435.80" cy="335.80" r="3.55" fill="#2c4d8d" stroke="#1b356f" stroke-width="0.6"/>
<circle cx="418.90" cy="340.50" r="3.55" fill="#2c4d8d" stroke="#1b356f" stroke-width="0.6"/>
<circle cx="427.40" cy="340.50" r="3.55" fill="#2c4d8d" stroke="#1b356f" stroke-width="0.6"/>
<circle cx="427.40" cy="354.60" r="3.55" fill="#2c4d8d" stroke="#1b356f" stroke-width="0.6"/>
<circle cx="435.80" cy="359.20" r="3.55" fill="#2c4d8d" stroke="#1b356f" stroke-width="0.6"/>
<circle cx="414.60" cy="363.10" r="3.55" fill="#2c4d8d" stroke="#1b356f" stroke-width="0.6"/>
<circle cx="427.40" cy="364.60" r="3.55" fill="#2c4d8d" stroke="#1b356f" stroke-width="0.6"/>
<circle cx="418.90" cy="371.20" r="3.55" fill="#2c4d8d" stroke="#1b356f" stroke-width="0.6"/>
<circle cx="427.40" cy="379.20" r="3.55" fill="#2c4d8d" stroke="#1b356f" stroke-width="0.6"/>
<circle cx="435.80" cy="378.50" r="3.55" fill="#2c4d8d" stroke="#1b356f" stroke-width="0.6"/>
<line x1="405.00" y1="330.50" x2="447.70" y2="330.50" stroke="#111" stroke-width="1.3"/>
<line x1="415.80" y1="322.50" x2="437.00" y2="322.50" stroke="#111" stroke-width="1.2"/>
<line x1="415.80" y1="338.20" x2="437.00" y2="338.20" stroke="#111" stroke-width="1.2"/>
<line x1="426.60" y1="322.50" x2="426.60" y2="338.20" stroke="#111" stroke-width="1.2"/>
<text x="362.10" y="403.10" font-size="8.4" text-anchor="middle" textLength="27.2" lengthAdjust="spacingAndGlyphs" >Healthy</text>
<text x="362.00" y="411.80" font-size="8.4" text-anchor="middle" textLength="50.1" lengthAdjust="spacingAndGlyphs" >donor plasma</text>
<text x="426.00" y="403.10" font-size="8.4" text-anchor="middle" textLength="25" lengthAdjust="spacingAndGlyphs" >CMML</text>
<text x="426.20" y="411.80" font-size="8.4" text-anchor="middle" textLength="25.5" lengthAdjust="spacingAndGlyphs" >plasma</text>
<text x="7.80" y="439.60" font-size="11.8" font-weight="bold" fill="#000" >E</text>
<line x1="52.30" y1="456.90" x2="52.30" y2="574.40" stroke="#111" stroke-width="1.3"/>
<line x1="49.30" y1="573.80" x2="52.30" y2="573.80" stroke="#111" stroke-width="1.1"/>
<text x="46.00" y="576.50" font-size="8.3" text-anchor="end" textLength="4.3" lengthAdjust="spacingAndGlyphs" >0</text>
<line x1="49.30" y1="551.00" x2="52.30" y2="551.00" stroke="#111" stroke-width="1.1"/>
<text x="46.00" y="553.70" font-size="8.3" text-anchor="end" textLength="12.8" lengthAdjust="spacingAndGlyphs" >100</text>
<line x1="49.30" y1="528.20" x2="52.30" y2="528.20" stroke="#111" stroke-width="1.1"/>
<text x="46.00" y="530.90" font-size="8.3" text-anchor="end" textLength="12.8" lengthAdjust="spacingAndGlyphs" >200</text>
<line x1="49.30" y1="505.40" x2="52.30" y2="505.40" stroke="#111" stroke-width="1.1"/>
<text x="46.00" y="508.10" font-size="8.3" text-anchor="end" textLength="12.8" lengthAdjust="spacingAndGlyphs" >300</text>
<line x1="49.30" y1="482.60" x2="52.30" y2="482.60" stroke="#111" stroke-width="1.1"/>
<text x="46.00" y="485.30" font-size="8.3" text-anchor="end" textLength="12.8" lengthAdjust="spacingAndGlyphs" >400</text>
<line x1="49.30" y1="459.80" x2="52.30" y2="459.80" stroke="#111" stroke-width="1.1"/>
<text x="46.00" y="462.50" font-size="8.3" text-anchor="end" textLength="12.8" lengthAdjust="spacingAndGlyphs" >500</text>
<line x1="49.30" y1="573.80" x2="176.20" y2="573.80" stroke="#111" stroke-width="1.4"/>
<line x1="140.80" y1="573.80" x2="140.80" y2="576.50" stroke="#111" stroke-width="1.0"/>
<line x1="87.70" y1="573.80" x2="87.70" y2="576.50" stroke="#111" stroke-width="1.0"/>
<line x1="84.50" y1="467.10" x2="151.20" y2="467.10" stroke="#333" stroke-width="1.4"/>
<text x="117.70" y="467.40" font-size="8" text-anchor="middle" textLength="12.7" lengthAdjust="spacingAndGlyphs" >****</text>
<text x="14.6" y="515.4" font-size="9.4" text-anchor="middle" textLength="77.5" lengthAdjust="spacingAndGlyphs" transform="rotate(-90 14.6 515.4)"><tspan font-style="italic">CYTL1</tspan> gene expression</text>
<text x="26.5" y="515.5" font-size="9.4" text-anchor="middle" textLength="64" lengthAdjust="spacingAndGlyphs" transform="rotate(-90 26.5 515.5)">(relative to <tspan font-style="italic">RPL32</tspan>)</text>
<circle cx="88.20" cy="559.20" r="2.5" fill="#a6002f" />
<circle cx="74.30" cy="564.20" r="2.5" fill="#a6002f" />
<circle cx="101.80" cy="564.60" r="2.5" fill="#a6002f" />
<circle cx="81.20" cy="566.60" r="2.5" fill="#a6002f" />
<circle cx="91.50" cy="567.70" r="2.5" fill="#a6002f" />
<circle cx="95.40" cy="567.20" r="2.5" fill="#a6002f" />
<circle cx="77.50" cy="569.50" r="2.5" fill="#a6002f" />
<circle cx="84.50" cy="569.50" r="2.5" fill="#a6002f" />
<circle cx="88.20" cy="569.00" r="2.5" fill="#a6002f" />
<circle cx="98.50" cy="569.30" r="2.5" fill="#a6002f" />
<circle cx="101.50" cy="569.80" r="2.5" fill="#a6002f" />
<circle cx="74.50" cy="570.20" r="2.5" fill="#a6002f" />
<circle cx="80.00" cy="571.20" r="2.5" fill="#a6002f" />
<circle cx="85.50" cy="571.60" r="2.5" fill="#a6002f" />
<circle cx="91.00" cy="571.40" r="2.5" fill="#a6002f" />
<circle cx="95.80" cy="571.00" r="2.5" fill="#a6002f" />
<circle cx="99.50" cy="571.60" r="2.5" fill="#a6002f" />
<circle cx="78.50" cy="572.20" r="2.5" fill="#a6002f" />
<circle cx="82.50" cy="573.00" r="2.5" fill="#a6002f" />
<circle cx="88.00" cy="573.60" r="2.5" fill="#a6002f" />
<circle cx="93.50" cy="573.00" r="2.5" fill="#a6002f" />
<circle cx="97.00" cy="572.60" r="2.5" fill="#a6002f" />
<circle cx="87.90" cy="575.00" r="2.5" fill="#a6002f" />
<circle cx="84.00" cy="574.20" r="2.5" fill="#a6002f" />
<circle cx="91.50" cy="574.20" r="2.5" fill="#a6002f" />
<line x1="70.30" y1="569.20" x2="105.40" y2="569.20" stroke="#111" stroke-width="1.4"/>
<circle cx="140.80" cy="481.00" r="2.25" fill="#2c4d8d" stroke="#1b356f" stroke-width="0.5"/>
<circle cx="137.30" cy="495.40" r="2.25" fill="#2c4d8d" stroke="#1b356f" stroke-width="0.5"/>
<circle cx="144.00" cy="500.20" r="2.25" fill="#2c4d8d" stroke="#1b356f" stroke-width="0.5"/>
<circle cx="144.00" cy="507.80" r="2.25" fill="#2c4d8d" stroke="#1b356f" stroke-width="0.5"/>
<circle cx="137.30" cy="512.20" r="2.25" fill="#2c4d8d" stroke="#1b356f" stroke-width="0.5"/>
<circle cx="140.80" cy="519.40" r="2.25" fill="#2c4d8d" stroke="#1b356f" stroke-width="0.5"/>
<circle cx="133.80" cy="541.50" r="2.25" fill="#2c4d8d" stroke="#1b356f" stroke-width="0.5"/>
<circle cx="144.20" cy="541.10" r="2.25" fill="#2c4d8d" stroke="#1b356f" stroke-width="0.5"/>
<circle cx="130.30" cy="544.30" r="2.25" fill="#2c4d8d" stroke="#1b356f" stroke-width="0.5"/>
<circle cx="137.40" cy="545.10" r="2.25" fill="#2c4d8d" stroke="#1b356f" stroke-width="0.5"/>
<circle cx="151.20" cy="544.90" r="2.25" fill="#2c4d8d" stroke="#1b356f" stroke-width="0.5"/>
<circle cx="144.20" cy="549.50" r="2.25" fill="#2c4d8d" stroke="#1b356f" stroke-width="0.5"/>
<circle cx="126.90" cy="553.10" r="2.25" fill="#2c4d8d" stroke="#1b356f" stroke-width="0.5"/>
<circle cx="154.60" cy="553.80" r="2.25" fill="#2c4d8d" stroke="#1b356f" stroke-width="0.5"/>
<circle cx="133.80" cy="557.40" r="2.25" fill="#2c4d8d" stroke="#1b356f" stroke-width="0.5"/>
<circle cx="140.80" cy="557.40" r="2.25" fill="#2c4d8d" stroke="#1b356f" stroke-width="0.5"/>
<circle cx="147.70" cy="557.40" r="2.25" fill="#2c4d8d" stroke="#1b356f" stroke-width="0.5"/>
<circle cx="126.90" cy="560.80" r="2.25" fill="#2c4d8d" stroke="#1b356f" stroke-width="0.5"/>
<circle cx="130.80" cy="561.50" r="2.25" fill="#2c4d8d" stroke="#1b356f" stroke-width="0.5"/>
<circle cx="137.40" cy="560.30" r="2.25" fill="#2c4d8d" stroke="#1b356f" stroke-width="0.5"/>
<circle cx="144.20" cy="560.80" r="2.25" fill="#2c4d8d" stroke="#1b356f" stroke-width="0.5"/>
<circle cx="154.60" cy="561.50" r="2.25" fill="#2c4d8d" stroke="#1b356f" stroke-width="0.5"/>
<circle cx="133.80" cy="563.10" r="2.25" fill="#2c4d8d" stroke="#1b356f" stroke-width="0.5"/>
<circle cx="140.80" cy="563.10" r="2.25" fill="#2c4d8d" stroke="#1b356f" stroke-width="0.5"/>
<circle cx="147.70" cy="563.10" r="2.25" fill="#2c4d8d" stroke="#1b356f" stroke-width="0.5"/>
<circle cx="151.00" cy="562.60" r="2.25" fill="#2c4d8d" stroke="#1b356f" stroke-width="0.5"/>
<circle cx="125.40" cy="566.50" r="2.25" fill="#2c4d8d" stroke="#1b356f" stroke-width="0.5"/>
<circle cx="129.70" cy="567.20" r="2.25" fill="#2c4d8d" stroke="#1b356f" stroke-width="0.5"/>
<circle cx="137.40" cy="564.60" r="2.25" fill="#2c4d8d" stroke="#1b356f" stroke-width="0.5"/>
<circle cx="143.10" cy="565.40" r="2.25" fill="#2c4d8d" stroke="#1b356f" stroke-width="0.5"/>
<circle cx="147.40" cy="568.20" r="2.25" fill="#2c4d8d" stroke="#1b356f" stroke-width="0.5"/>
<circle cx="151.80" cy="566.50" r="2.25" fill="#2c4d8d" stroke="#1b356f" stroke-width="0.5"/>
<circle cx="156.50" cy="566.20" r="2.25" fill="#2c4d8d" stroke="#1b356f" stroke-width="0.5"/>
<circle cx="133.80" cy="571.20" r="2.25" fill="#2c4d8d" stroke="#1b356f" stroke-width="0.5"/>
<circle cx="138.50" cy="572.30" r="2.25" fill="#2c4d8d" stroke="#1b356f" stroke-width="0.5"/>
<circle cx="143.10" cy="571.50" r="2.25" fill="#2c4d8d" stroke="#1b356f" stroke-width="0.5"/>
<line x1="123.00" y1="550.30" x2="158.20" y2="550.30" stroke="#111" stroke-width="1.3"/>
<line x1="132.30" y1="546.20" x2="149.50" y2="546.20" stroke="#111" stroke-width="1.1"/>
<line x1="132.30" y1="554.20" x2="149.50" y2="554.20" stroke="#111" stroke-width="1.1"/>
<line x1="140.80" y1="546.20" x2="140.80" y2="554.20" stroke="#111" stroke-width="1.1"/>
<text x="88.10" y="587.70" font-size="8.4" text-anchor="middle" textLength="27.7" lengthAdjust="spacingAndGlyphs" >Healthy</text>
<text x="88.10" y="596.50" font-size="8.4" text-anchor="middle" textLength="25.3" lengthAdjust="spacingAndGlyphs" >donors</text>
<text x="140.80" y="587.70" font-size="8.4" text-anchor="middle" textLength="24.5" lengthAdjust="spacingAndGlyphs" >CMML</text>
<text x="191.90" y="439.60" font-size="11.8" font-weight="bold" fill="#000" >F</text>
<rect x="241.00" y="532.00" width="23.00" height="32.40" fill="#e6c6c1" />
<rect x="275.10" y="532.80" width="22.80" height="31.60" fill="#eedcc6" />
<rect x="309.90" y="497.30" width="22.30" height="67.10" fill="#c9cbe0" />
<line x1="229.40" y1="446.90" x2="229.40" y2="565.00" stroke="#111" stroke-width="1.3"/>
<line x1="226.50" y1="564.40" x2="229.40" y2="564.40" stroke="#111" stroke-width="1.1"/>
<text x="223.00" y="567.10" font-size="8.3" text-anchor="end" textLength="3.5" lengthAdjust="spacingAndGlyphs" >1</text>
<line x1="226.50" y1="526.25" x2="229.40" y2="526.25" stroke="#111" stroke-width="1.1"/>
<text x="223.00" y="528.95" font-size="8.3" text-anchor="end" textLength="8.2" lengthAdjust="spacingAndGlyphs" >10</text>
<line x1="226.50" y1="488.10" x2="229.40" y2="488.10" stroke="#111" stroke-width="1.1"/>
<text x="223.00" y="490.80" font-size="8.3" text-anchor="end" textLength="11.8" lengthAdjust="spacingAndGlyphs" >100</text>
<line x1="226.50" y1="449.95" x2="229.40" y2="449.95" stroke="#111" stroke-width="1.1"/>
<text x="223.00" y="452.65" font-size="8.3" text-anchor="end" textLength="16.8" lengthAdjust="spacingAndGlyphs" >1000</text>
<line x1="227.90" y1="552.92" x2="229.40" y2="552.92" stroke="#111" stroke-width="0.6"/>
<line x1="227.90" y1="546.20" x2="229.40" y2="546.20" stroke="#111" stroke-width="0.6"/>
<line x1="227.90" y1="541.43" x2="229.40" y2="541.43" stroke="#111" stroke-width="0.6"/>
<line x1="227.90" y1="537.73" x2="229.40" y2="537.73" stroke="#111" stroke-width="0.6"/>
<line x1="227.90" y1="534.71" x2="229.40" y2="534.71" stroke="#111" stroke-width="0.6"/>
<line x1="227.90" y1="532.16" x2="229.40" y2="532.16" stroke="#111" stroke-width="0.6"/>
<line x1="227.90" y1="529.95" x2="229.40" y2="529.95" stroke="#111" stroke-width="0.6"/>
<line x1="227.90" y1="528.00" x2="229.40" y2="528.00" stroke="#111" stroke-width="0.6"/>
<line x1="227.90" y1="514.77" x2="229.40" y2="514.77" stroke="#111" stroke-width="0.6"/>
<line x1="227.90" y1="508.05" x2="229.40" y2="508.05" stroke="#111" stroke-width="0.6"/>
<line x1="227.90" y1="503.28" x2="229.40" y2="503.28" stroke="#111" stroke-width="0.6"/>
<line x1="227.90" y1="499.58" x2="229.40" y2="499.58" stroke="#111" stroke-width="0.6"/>
<line x1="227.90" y1="496.56" x2="229.40" y2="496.56" stroke="#111" stroke-width="0.6"/>
<line x1="227.90" y1="494.01" x2="229.40" y2="494.01" stroke="#111" stroke-width="0.6"/>
<line x1="227.90" y1="491.80" x2="229.40" y2="491.80" stroke="#111" stroke-width="0.6"/>
<line x1="227.90" y1="489.85" x2="229.40" y2="489.85" stroke="#111" stroke-width="0.6"/>
<line x1="227.90" y1="476.62" x2="229.40" y2="476.62" stroke="#111" stroke-width="0.6"/>
<line x1="227.90" y1="469.90" x2="229.40" y2="469.90" stroke="#111" stroke-width="0.6"/>
<line x1="227.90" y1="465.13" x2="229.40" y2="465.13" stroke="#111" stroke-width="0.6"/>
<line x1="227.90" y1="461.43" x2="229.40" y2="461.43" stroke="#111" stroke-width="0.6"/>
<line x1="227.90" y1="458.41" x2="229.40" y2="458.41" stroke="#111" stroke-width="0.6"/>
<line x1="227.90" y1="455.86" x2="229.40" y2="455.86" stroke="#111" stroke-width="0.6"/>
<line x1="227.90" y1="453.65" x2="229.40" y2="453.65" stroke="#111" stroke-width="0.6"/>
<line x1="227.90" y1="451.70" x2="229.40" y2="451.70" stroke="#111" stroke-width="0.6"/>
<line x1="229.40" y1="564.40" x2="343.40" y2="564.40" stroke="#111" stroke-width="1.4"/>
<line x1="252.50" y1="564.40" x2="252.50" y2="567.20" stroke="#111" stroke-width="1.0"/>
<line x1="286.50" y1="564.40" x2="286.50" y2="567.20" stroke="#111" stroke-width="1.0"/>
<line x1="320.80" y1="564.40" x2="320.80" y2="567.20" stroke="#111" stroke-width="1.0"/>
<line x1="251.20" y1="456.00" x2="321.80" y2="456.00" stroke="#555" stroke-width="1.4"/>
<line x1="286.20" y1="464.60" x2="321.80" y2="464.60" stroke="#555" stroke-width="1.4"/>
<text x="286.30" y="456.40" font-size="8" text-anchor="middle" textLength="6.2" lengthAdjust="spacingAndGlyphs" >**</text>
<text x="304.00" y="465.30" font-size="8" text-anchor="middle" textLength="6.2" lengthAdjust="spacingAndGlyphs" >**</text>
<text x="200.2" y="505.6" font-size="9.4" text-anchor="middle" textLength="77.5" lengthAdjust="spacingAndGlyphs" transform="rotate(-90 200.2 505.6)"><tspan font-style="italic">CYTL1</tspan> gene expression</text>
<circle cx="253.80" cy="516.90" r="2.5" fill="#a6002f" stroke="#fff" stroke-width="0.3"/>
<circle cx="251.30" cy="523.00" r="2.5" fill="#a6002f" stroke="#fff" stroke-width="0.3"/>
<circle cx="255.80" cy="524.30" r="2.5" fill="#a6002f" stroke="#fff" stroke-width="0.3"/>
<circle cx="249.40" cy="526.30" r="2.5" fill="#a6002f" stroke="#fff" stroke-width="0.3"/>
<circle cx="253.20" cy="527.50" r="2.5" fill="#a6002f" stroke="#fff" stroke-width="0.3"/>
<circle cx="260.30" cy="528.30" r="2.5" fill="#a6002f" stroke="#fff" stroke-width="0.3"/>
<circle cx="257.00" cy="529.50" r="2.5" fill="#a6002f" stroke="#fff" stroke-width="0.3"/>
<circle cx="249.40" cy="533.20" r="2.5" fill="#a6002f" stroke="#fff" stroke-width="0.3"/>
<circle cx="257.30" cy="532.30" r="2.5" fill="#a6002f" stroke="#fff" stroke-width="0.3"/>
<circle cx="253.00" cy="534.00" r="2.5" fill="#a6002f" stroke="#fff" stroke-width="0.3"/>
<circle cx="255.30" cy="537.20" r="2.5" fill="#a6002f" stroke="#fff" stroke-width="0.3"/>
<circle cx="251.30" cy="538.70" r="2.5" fill="#a6002f" stroke="#fff" stroke-width="0.3"/>
<circle cx="251.30" cy="544.10" r="2.5" fill="#a6002f" stroke="#fff" stroke-width="0.3"/>
<circle cx="255.80" cy="547.10" r="2.5" fill="#a6002f" stroke="#fff" stroke-width="0.3"/>
<circle cx="253.80" cy="564.90" r="2.5" fill="#a6002f" stroke="#fff" stroke-width="0.3"/>
<circle cx="258.20" cy="522.50" r="2.5" fill="#a6002f" stroke="#fff" stroke-width="0.3"/>
<circle cx="252.20" cy="530.20" r="2.5" fill="#a6002f" stroke="#fff" stroke-width="0.3"/>
<circle cx="256.20" cy="535.50" r="2.5" fill="#a6002f" stroke="#fff" stroke-width="0.3"/>
<circle cx="249.60" cy="529.80" r="2.5" fill="#a6002f" stroke="#fff" stroke-width="0.3"/>
<circle cx="260.20" cy="532.20" r="2.5" fill="#a6002f" stroke="#fff" stroke-width="0.3"/>
<circle cx="253.50" cy="540.50" r="2.5" fill="#a6002f" stroke="#fff" stroke-width="0.3"/>
<line x1="246.90" y1="529.10" x2="258.20" y2="529.10" stroke="#111" stroke-width="1.2"/>
<line x1="246.90" y1="535.20" x2="258.20" y2="535.20" stroke="#111" stroke-width="1.2"/>
<line x1="253.00" y1="529.10" x2="253.00" y2="535.20" stroke="#111" stroke-width="1.2"/>
<circle cx="288.00" cy="517.40" r="2.5" fill="#ab5e19" stroke="#fff" stroke-width="0.3"/>
<circle cx="288.00" cy="523.00" r="2.5" fill="#ab5e19" stroke="#fff" stroke-width="0.3"/>
<circle cx="294.60" cy="529.30" r="2.5" fill="#ab5e19" stroke="#fff" stroke-width="0.3"/>
<circle cx="281.40" cy="532.80" r="2.5" fill="#ab5e19" stroke="#fff" stroke-width="0.3"/>
<circle cx="284.90" cy="533.20" r="2.5" fill="#ab5e19" stroke="#fff" stroke-width="0.3"/>
<circle cx="288.30" cy="533.50" r="2.5" fill="#ab5e19" stroke="#fff" stroke-width="0.3"/>
<circle cx="290.80" cy="533.50" r="2.5" fill="#ab5e19" stroke="#fff" stroke-width="0.3"/>
<circle cx="292.60" cy="539.70" r="2.5" fill="#ab5e19" stroke="#fff" stroke-width="0.3"/>
<circle cx="283.40" cy="541.20" r="2.5" fill="#ab5e19" stroke="#fff" stroke-width="0.3"/>
<circle cx="287.80" cy="543.60" r="2.5" fill="#ab5e19" stroke="#fff" stroke-width="0.3"/>
<circle cx="290.30" cy="545.40" r="2.5" fill="#ab5e19" stroke="#fff" stroke-width="0.3"/>
<circle cx="285.80" cy="548.40" r="2.5" fill="#ab5e19" stroke="#fff" stroke-width="0.3"/>
<line x1="281.10" y1="529.30" x2="291.30" y2="529.30" stroke="#27324a" stroke-width="1.2"/>
<line x1="281.10" y1="536.50" x2="291.30" y2="536.50" stroke="#27324a" stroke-width="1.2"/>
<line x1="286.20" y1="529.30" x2="286.20" y2="536.50" stroke="#27324a" stroke-width="1.2"/>
<line x1="321.20" y1="493.10" x2="321.20" y2="503.60" stroke="#111" stroke-width="1.2"/>
<line x1="315.40" y1="503.60" x2="326.40" y2="503.60" stroke="#111" stroke-width="1.2"/>
<circle cx="322.00" cy="476.30" r="2.4" fill="#2c4d8d" stroke="#1b356f" stroke-width="0.5"/>
<circle cx="315.40" cy="492.80" r="2.4" fill="#2c4d8d" stroke="#1b356f" stroke-width="0.5"/>
<circle cx="319.80" cy="495.10" r="2.4" fill="#2c4d8d" stroke="#1b356f" stroke-width="0.5"/>
<circle cx="324.50" cy="493.10" r="2.4" fill="#2c4d8d" stroke="#1b356f" stroke-width="0.5"/>
<circle cx="328.90" cy="491.50" r="2.4" fill="#2c4d8d" stroke="#1b356f" stroke-width="0.5"/>
<circle cx="317.40" cy="507.20" r="2.4" fill="#2c4d8d" stroke="#1b356f" stroke-width="0.5"/>
<circle cx="322.00" cy="507.20" r="2.4" fill="#2c4d8d" stroke="#1b356f" stroke-width="0.5"/>
<circle cx="326.40" cy="508.30" r="2.4" fill="#2c4d8d" stroke="#1b356f" stroke-width="0.5"/>
<circle cx="322.00" cy="510.50" r="2.4" fill="#2c4d8d" stroke="#1b356f" stroke-width="0.5"/>
<circle cx="322.00" cy="523.70" r="2.4" fill="#2c4d8d" stroke="#1b356f" stroke-width="0.5"/>
<circle cx="322.00" cy="534.50" r="2.4" fill="#2c4d8d" stroke="#1b356f" stroke-width="0.5"/>
<text x="252.60" y="577.70" font-size="8.4" text-anchor="middle" textLength="22.8" lengthAdjust="spacingAndGlyphs" >Young</text>
<text x="252.60" y="587.10" font-size="8.4" text-anchor="middle" textLength="26" lengthAdjust="spacingAndGlyphs" >healthy</text>
<text x="252.60" y="596.50" font-size="8.4" text-anchor="middle" textLength="24.9" lengthAdjust="spacingAndGlyphs" >donors</text>
<text x="286.50" y="577.70" font-size="8.4" text-anchor="middle" textLength="13.4" lengthAdjust="spacingAndGlyphs" >Old</text>
<text x="286.50" y="587.10" font-size="8.4" text-anchor="middle" textLength="26" lengthAdjust="spacingAndGlyphs" >healthy</text>
<text x="286.50" y="596.50" font-size="8.4" text-anchor="middle" textLength="25" lengthAdjust="spacingAndGlyphs" >donors</text>
<text x="320.90" y="577.70" font-size="8.4" text-anchor="middle" textLength="24.5" lengthAdjust="spacingAndGlyphs" >CMML</text>
<text x="359.50" y="439.60" font-size="11.8" font-weight="bold" fill="#000" >G</text>
<line x1="388.00" y1="457.20" x2="388.00" y2="574.40" stroke="#111" stroke-width="1.3"/>
<line x1="385.00" y1="573.90" x2="388.00" y2="573.90" stroke="#111" stroke-width="1.1"/>
<text x="382.00" y="576.60" font-size="8.3" text-anchor="end" textLength="4.3" lengthAdjust="spacingAndGlyphs" >0</text>
<line x1="385.00" y1="545.22" x2="388.00" y2="545.22" stroke="#111" stroke-width="1.1"/>
<text x="382.00" y="547.92" font-size="8.3" text-anchor="end" textLength="8.4" lengthAdjust="spacingAndGlyphs" >20</text>
<line x1="385.00" y1="516.55" x2="388.00" y2="516.55" stroke="#111" stroke-width="1.1"/>
<text x="382.00" y="519.25" font-size="8.3" text-anchor="end" textLength="8.4" lengthAdjust="spacingAndGlyphs" >40</text>
<line x1="385.00" y1="487.87" x2="388.00" y2="487.87" stroke="#111" stroke-width="1.1"/>
<text x="382.00" y="490.57" font-size="8.3" text-anchor="end" textLength="8.4" lengthAdjust="spacingAndGlyphs" >60</text>
<line x1="385.00" y1="459.20" x2="388.00" y2="459.20" stroke="#111" stroke-width="1.1"/>
<text x="382.00" y="461.90" font-size="8.3" text-anchor="end" textLength="8.4" lengthAdjust="spacingAndGlyphs" >80</text>
<line x1="385.00" y1="573.90" x2="512.40" y2="573.90" stroke="#111" stroke-width="1.4"/>
<line x1="416.90" y1="461.10" x2="478.80" y2="461.10" stroke="#555" stroke-width="1.4"/>
<text x="447.70" y="461.30" font-size="8" text-anchor="middle" textLength="6.2" lengthAdjust="spacingAndGlyphs" >**</text>
<text x="367.30" y="514.80" font-size="9.4" text-anchor="middle" textLength="49.5" lengthAdjust="spacingAndGlyphs" transform="rotate(-90 367.30 514.80)" >CYTL1 (pg/mL)</text>
<circle cx="425.30" cy="564.20" r="2.6" fill="#a6002f" />
<circle cx="429.00" cy="569.80" r="2.6" fill="#a6002f" />
<circle cx="411.00" cy="573.60" r="2.6" fill="#a6002f" />
<circle cx="415.00" cy="573.60" r="2.6" fill="#a6002f" />
<circle cx="419.00" cy="573.20" r="2.6" fill="#a6002f" />
<circle cx="423.00" cy="573.60" r="2.6" fill="#a6002f" />
<circle cx="427.00" cy="573.40" r="2.6" fill="#a6002f" />
<circle cx="431.00" cy="573.60" r="2.6" fill="#a6002f" />
<circle cx="435.00" cy="573.20" r="2.6" fill="#a6002f" />
<circle cx="438.50" cy="573.60" r="2.6" fill="#a6002f" />
<circle cx="421.00" cy="572.00" r="2.6" fill="#a6002f" />
<circle cx="433.00" cy="571.80" r="2.6" fill="#a6002f" />
<line x1="406.00" y1="572.90" x2="441.40" y2="572.90" stroke="#111" stroke-width="1.4"/>
<circle cx="477.30" cy="470.40" r="2.5" fill="#2c4d8d" stroke="#1b356f" stroke-width="0.5"/>
<circle cx="477.30" cy="484.30" r="2.5" fill="#2c4d8d" stroke="#1b356f" stroke-width="0.5"/>
<circle cx="477.30" cy="506.20" r="2.5" fill="#2c4d8d" stroke="#1b356f" stroke-width="0.5"/>
<circle cx="477.50" cy="535.60" r="2.5" fill="#2c4d8d" stroke="#1b356f" stroke-width="0.5"/>
<circle cx="470.50" cy="549.80" r="2.5" fill="#2c4d8d" stroke="#1b356f" stroke-width="0.5"/>
<circle cx="484.40" cy="551.20" r="2.5" fill="#2c4d8d" stroke="#1b356f" stroke-width="0.5"/>
<circle cx="477.50" cy="554.60" r="2.5" fill="#2c4d8d" stroke="#1b356f" stroke-width="0.5"/>
<circle cx="470.50" cy="565.30" r="2.5" fill="#2c4d8d" stroke="#1b356f" stroke-width="0.5"/>
<circle cx="477.50" cy="565.00" r="2.5" fill="#2c4d8d" stroke="#1b356f" stroke-width="0.5"/>
<circle cx="480.60" cy="566.70" r="2.5" fill="#2c4d8d" stroke="#1b356f" stroke-width="0.5"/>
<circle cx="484.40" cy="565.00" r="2.5" fill="#2c4d8d" stroke="#1b356f" stroke-width="0.5"/>
<circle cx="474.00" cy="569.60" r="2.5" fill="#2c4d8d" stroke="#1b356f" stroke-width="0.5"/>
<circle cx="465.00" cy="572.00" r="2.5" fill="#2c4d8d" stroke="#1b356f" stroke-width="0.5"/>
<circle cx="468.50" cy="572.50" r="2.5" fill="#2c4d8d" stroke="#1b356f" stroke-width="0.5"/>
<circle cx="472.00" cy="573.00" r="2.5" fill="#2c4d8d" stroke="#1b356f" stroke-width="0.5"/>
<circle cx="475.50" cy="573.30" r="2.5" fill="#2c4d8d" stroke="#1b356f" stroke-width="0.5"/>
<circle cx="479.00" cy="573.50" r="2.5" fill="#2c4d8d" stroke="#1b356f" stroke-width="0.5"/>
<circle cx="482.50" cy="573.30" r="2.5" fill="#2c4d8d" stroke="#1b356f" stroke-width="0.5"/>
<circle cx="486.00" cy="572.80" r="2.5" fill="#2c4d8d" stroke="#1b356f" stroke-width="0.5"/>
<circle cx="489.50" cy="572.00" r="2.5" fill="#2c4d8d" stroke="#1b356f" stroke-width="0.5"/>
<circle cx="470.00" cy="574.50" r="2.5" fill="#2c4d8d" stroke="#1b356f" stroke-width="0.5"/>
<circle cx="476.00" cy="575.00" r="2.5" fill="#2c4d8d" stroke="#1b356f" stroke-width="0.5"/>
<circle cx="482.00" cy="574.80" r="2.5" fill="#2c4d8d" stroke="#1b356f" stroke-width="0.5"/>
<line x1="459.80" y1="553.80" x2="494.80" y2="553.80" stroke="#111" stroke-width="1.4"/>
<line x1="468.20" y1="546.90" x2="486.00" y2="546.90" stroke="#111" stroke-width="1.2"/>
<line x1="468.20" y1="560.70" x2="486.00" y2="560.70" stroke="#111" stroke-width="1.2"/>
<line x1="477.40" y1="546.90" x2="477.40" y2="560.70" stroke="#111" stroke-width="1.2"/>
<text x="424.10" y="587.60" font-size="8.4" text-anchor="middle" textLength="27.7" lengthAdjust="spacingAndGlyphs" >Healthy</text>
<text x="424.20" y="596.60" font-size="8.4" text-anchor="middle" textLength="25.1" lengthAdjust="spacingAndGlyphs" >donors</text>
<text x="477.50" y="587.60" font-size="8.4" text-anchor="middle" textLength="24.5" lengthAdjust="spacingAndGlyphs" >CMML</text>
<rect x="0.00" y="0.00" width="520.00" height="1.20" fill="#000" />
<rect x="0.00" y="0.00" width="1.15" height="606.00" fill="#000" />
<rect x="518.80" y="0.00" width="1.20" height="606.00" fill="#000" />
<rect x="0.00" y="604.70" width="520.00" height="1.30" fill="#000" />
</g>
</svg>
</body></html>
